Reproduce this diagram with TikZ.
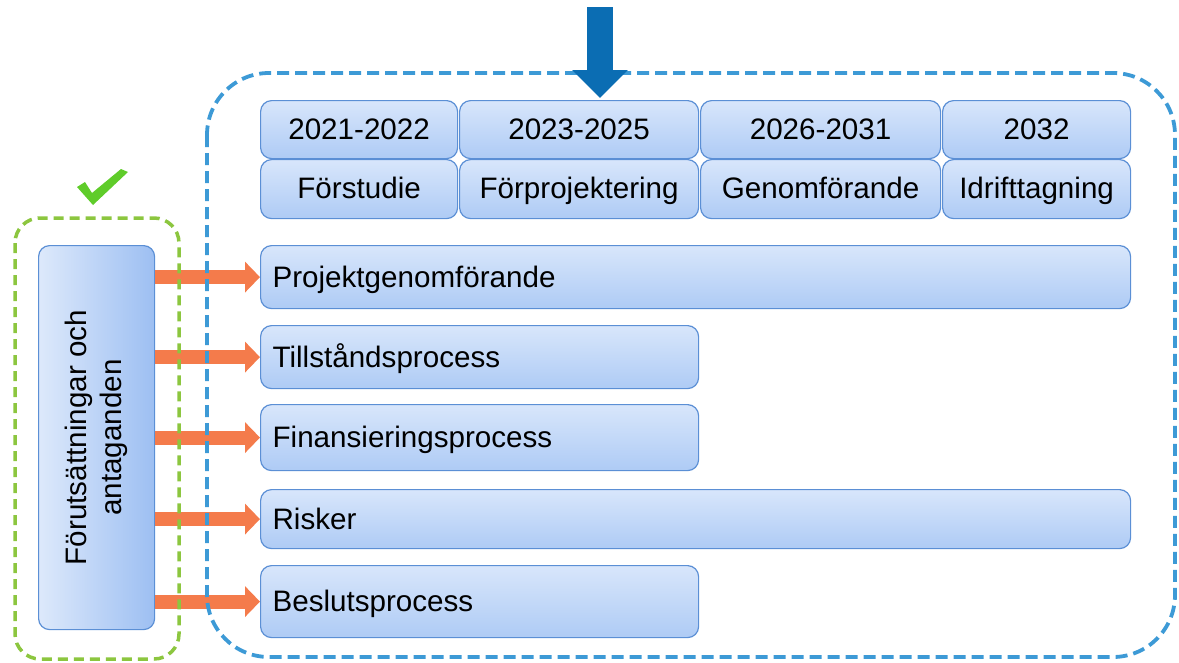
\documentclass[tikz,border=0pt]{standalone}
\usepackage{fontspec}
\usepackage{graphicx}
\setmainfont{Liberation Sans}
\usetikzlibrary{arrows.meta}
\definecolor{boxline}{HTML}{5B8FD5}
\definecolor{boxtop}{HTML}{D8E6FB}
\definecolor{boxbot}{HTML}{AECBF5}
\definecolor{boxleft}{HTML}{DDE9FB}
\definecolor{boxright}{HTML}{9DBFF2}
\definecolor{orangec}{HTML}{F47B4B}
\definecolor{bluedash}{HTML}{3D9AD6}
\definecolor{greendash}{HTML}{8CC63F}
\definecolor{checkgreen}{HTML}{5FCC2A}
\definecolor{bluearrow}{HTML}{0B6DB3}
\begin{document}
\begin{tikzpicture}[x=1pt,y=-1pt,
  basebox/.style={draw=boxline, line width=1.2pt, rounded corners=11pt, inner sep=0pt,
    anchor=north west, font=\fontsize{29.6}{35}\selectfont},
  yearbox/.style={basebox, top color=boxtop, bottom color=boxbot, align=center,
    text height=21pt, text depth=2pt},
  procbox/.style={basebox, top color=boxtop, bottom color=boxbot, inner xsep=12pt, align=left,
    text height=21pt, text depth=1pt},
  sidebox/.style={basebox, left color=boxleft, right color=boxright, align=center},
  orangearr/.style={draw=orangec, line width=14pt, -{Triangle[length=15pt,width=30pt]}},
  bluearr/.style={draw=bluearrow, line width=26pt, -{Triangle[length=28pt,width=54pt]}},
  bluedashed/.style={draw=bluedash, line width=3.8pt, dash pattern=on 12pt off 6pt, rounded corners=62pt},
  greendashed/.style={draw=greendash, line width=3.5pt, dash pattern=on 10pt off 6pt, rounded corners=25pt}
]
\useasboundingbox (0,0) rectangle (1179,662);

% year boxes
\node[yearbox, minimum width=197pt, minimum height=58pt] (Y1) at (260,100) {2021-2022};
\node[yearbox, minimum width=239pt, minimum height=58pt] (Y2) at (459,100) {2023-2025};
\node[yearbox, minimum width=240pt, minimum height=58pt] (Y3) at (700,100) {2026-2031};
\node[yearbox, minimum width=188pt, minimum height=58pt] (Y4) at (942,100) {2032};
\node[yearbox, minimum width=197pt, minimum height=59pt] (P1) at (260,159) {Förstudie};
\node[yearbox, minimum width=239pt, minimum height=59pt] (P2) at (459,159) {Förprojektering};
\node[yearbox, minimum width=240pt, minimum height=59pt] (P3) at (700,159) {Genomförande};
\node[yearbox, minimum width=188pt, minimum height=59pt] (P4) at (942,159) {Idrifttagning};

% process bars
\node[procbox, text width=846pt, minimum height=63pt] (R1) at (260,245) {Projektgenomförande};
\node[procbox, text width=414pt, minimum height=63pt] (R2) at (260,325) {Tillståndsprocess};
\node[procbox, text width=414pt, minimum height=66pt] (R3) at (260,404) {Finansieringsprocess};
\node[procbox, text width=846pt, minimum height=59pt] (R4) at (260,489) {Risker};
\node[procbox, text width=414pt, minimum height=72pt] (R5) at (260,565) {Beslutsprocess};

% side box
\node[sidebox, minimum width=116pt, minimum height=384pt] (L) at (38,245)
  {\rotatebox{90}{\begin{tabular}{@{}c@{}}Förutsättningar och\\antaganden\end{tabular}}};

% orange arrows
\foreach \r in {R1,R2,R3,R4,R5}{
  \draw[orangearr] (L.east |- \r.west) -- (\r.west);
}

% dashed frames
\draw[bluedashed] (207,73) rectangle (1175,657);
\draw[greendashed] (15,218) rectangle (179,659);

% check mark
\fill[checkgreen] (77,187) -- (85,182) -- (92,193) -- (121,169) -- (128,172) -- (93,205) -- cycle;

% blue arrow
\coordinate (BT) at (600,7);
\coordinate (BB) at (600,98);
\draw[bluearr] (BT) -- (BB);
\end{tikzpicture}
\end{document}
